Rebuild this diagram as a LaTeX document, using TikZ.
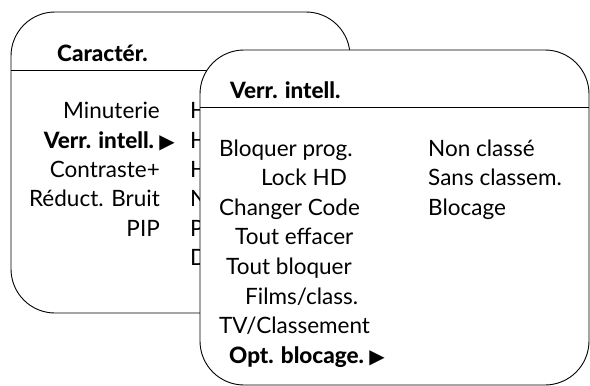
\documentclass[tikz,border=0pt]{standalone}
\usepackage{fontspec}
\setmainfont{Lato}[BoldFont={Lato Heavy}]
\newfontfamily\symfont{DejaVu Sans}
\usetikzlibrary{positioning}
\newcommand\menufont{\fontsize{22.5}{26}\selectfont}
\newcommand\marker{{\symfont\fontsize{20}{20}\selectfont ▶}}
\tikzset{
	panel/.style={draw,line width=0.9pt,rounded corners=44pt,fill=white},
	rule/.style={line width=0.9pt},
	item/.style={inner sep=0pt,font=\menufont},
	head/.style={inner sep=0pt,font=\menufont\bfseries},
}
\begin{document}
\begin{tikzpicture}[x=1pt,y=-1pt]
	\useasboundingbox (0,0) rectangle (590,386);

	% back panel
	\draw[panel] (11,12) rectangle (350,313);
	\draw[rule] (11,70) -- (350,70);
	\node[head,anchor=base west] (cartitle) at (57,61) {Caractér.};
	\foreach \x / \y / \t [count=\i] in {160/118/Minuterie,175/148/{\bfseries Verr. intell.\ \marker},160/177/Contraste+,160/206.5/Réduct. Bruit,160/236/PIP}
		{ \node[item,anchor=base east] (car\i) at (\x,\y) {\t};}
	\foreach \y / \t [count=\i] in {118/H,148/H,177/H,206.5/N,236/P,265/D}
		{ \node[item,anchor=base west] (val\i) at (190,\y) {\t};}

	% front panel
	\draw[panel] (200,50) rectangle (589,385);
	\draw[rule] (200,107) -- (589,107);
	\node[head,anchor=base west] (vertitle) at (230,98) {Verr. intell.};
	\foreach \x / \y / \t [count=\i] in {219/156/Bloquer prog.,261/185.6/Lock HD,219/215.2/Changer Code,235/244.8/Tout effacer,226/274.4/Tout bloquer,245/304/{Films/class.},219/333.6/{TV/Classement},229/363.2/{\bfseries Opt. blocage.\ \marker}}
		{ \node[item,anchor=base west] (ver\i) at (\x,\y) {\t};}
	\foreach \y / \t [count=\i] in {156/Non classé,185.6/Sans classem.,215.2/Blocage}
		{ \node[item,anchor=base west] (opt\i) at (428,\y) {\t};}
\end{tikzpicture}
\end{document}
